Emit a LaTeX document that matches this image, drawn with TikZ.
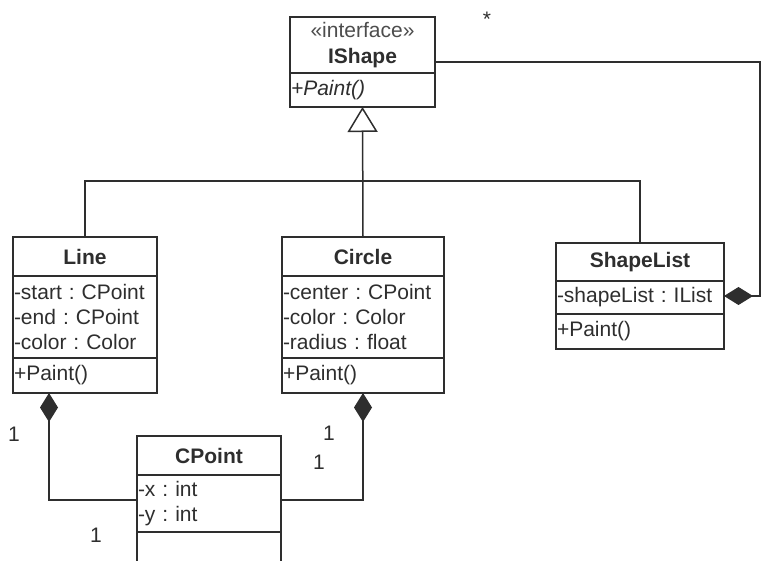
\documentclass[tikz,border=0pt]{standalone}
\usepackage{fontspec}
\setmainfont{Liberation Sans}
\usetikzlibrary{positioning,fit,arrows.meta}
\definecolor{umlgray}{HTML}{2E2E2E}
\frenchspacing

\begin{document}
\begin{tikzpicture}[x=1pt,y=-1pt,
    every node/.style={font=\fontsize{21}{25}\selectfont, text=umlgray},
    umlname/.style={draw=umlgray, line width=1.5pt, outer sep=0pt, inner sep=0pt,
      font=\fontsize{21}{25}\selectfont\bfseries, align=center},
    umlpart/.style={draw=umlgray, line width=1.5pt, outer sep=0pt,
      inner xsep=1pt, inner ysep=0pt, align=left},
    umlwhole/.style={inner sep=0pt, outer sep=0pt},
    umlline/.style={draw=umlgray, line width=1.5pt},
    inherit/.style={umlline, -{Triangle[open, length=25pt, width=30pt]}},
    compose/.style={umlline, -{Diamond[length=29pt, width=18pt, fill=umlgray]}},
    mult/.style={inner sep=0pt}]
  \useasboundingbox (0,0) rectangle (771,561);
  \clip (0,0) rectangle (771,561);

  % interface
  \node[umlname, minimum width=145pt, minimum height=56pt, anchor=north west] (ishapename) at (290,17)
    {\mdseries\color{umlgray!85}«interface»\\[1pt]IShape};
  \node[umlpart, text width=143pt, minimum height=34pt, below=0pt of ishapename] (ishapeops) {\itshape +Paint()};
  \node[umlwhole, fit=(ishapename)(ishapeops)] (ishape) {};

  % Line
  \node[umlname, minimum width=144pt, minimum height=39pt, anchor=north west] (linename) at (13,237) {Line};
  \node[umlpart, text width=142pt, minimum height=82pt, below=0pt of linename] (lineattr)
    {-start : CPoint\\-end : CPoint\\-color : Color};
  \node[umlpart, text width=142pt, minimum height=35pt, below=0pt of lineattr] (lineops) {+Paint()};
  \node[umlwhole, fit=(linename)(lineops)] (line) {};

  % Circle
  \node[umlname, minimum width=162pt, minimum height=39pt, anchor=north west] (circlename) at (282,237) {Circle};
  \node[umlpart, text width=160pt, minimum height=82pt, below=0pt of circlename] (circleattr)
    {-center : CPoint\\-color : Color\\-radius : float};
  \node[umlpart, text width=160pt, minimum height=35pt, below=0pt of circleattr] (circleops) {+Paint()};
  \node[umlwhole, fit=(circlename)(circleops)] (circle) {};

  % ShapeList
  \node[umlname, minimum width=168pt, minimum height=38pt, anchor=north west] (shapelistname) at (556,243) {ShapeList};
  \node[umlpart, text width=166pt, minimum height=33pt, below=0pt of shapelistname] (shapelistattr)
    {-shapeList : IList};
  \node[umlpart, text width=166pt, minimum height=35pt, below=0pt of shapelistattr] (shapelistops) {+Paint()};
  \node[umlwhole, fit=(shapelistname)(shapelistops)] (shapelist) {};

  % CPoint
  \node[umlname, minimum width=144pt, minimum height=39pt, anchor=north west] (cpointname) at (137,436) {CPoint};
  \node[umlpart, text width=142pt, minimum height=57pt, below=0pt of cpointname] (cpointattr)
    {-x : int\\-y : int};
  \node[umlpart, text width=142pt, minimum height=32pt, below=0pt of cpointattr] (cpointops) {};
  \node[umlwhole, fit=(cpointname)(cpointops)] (cpoint) {};

  % generalization
  \coordinate (branch) at (363,181);
  \draw[inherit] (circle.north) -- (ishape.south);
  \draw[umlline] (line.north) |- (branch) -| (shapelist.north);

  % compositions
  \draw[compose] (ishape.east) -| ([xshift=36pt]shapelist.east) -- (shapelist.east);
  \draw[compose] (cpoint.west) -| ([xshift=36pt]line.south west);
  \draw[compose] (cpoint.east) -| (circle.south);

  % multiplicities
  \node[mult] (manyshapes) at (487,19) {*};
  \node[mult] (lineone) at (14,434) {1};
  \node[mult] (linepoint) at (96,535) {1};
  \node[mult] (circleone) at (329,433) {1};
  \node[mult] (circlepoint) at (319,462) {1};
\end{tikzpicture}
\end{document}
